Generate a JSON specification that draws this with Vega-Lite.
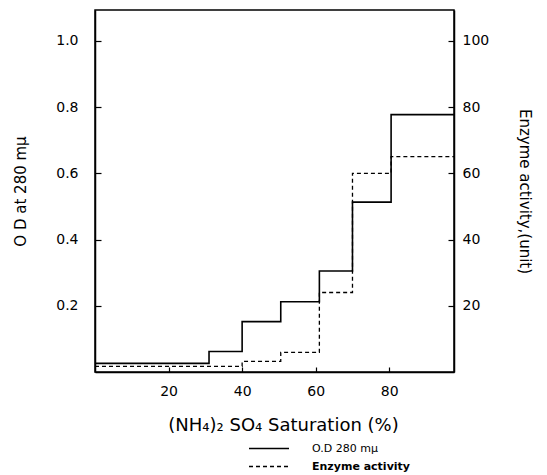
{
  "$schema": "https://vega.github.io/schema/vega-lite/v6.json",
  "width": 359,
  "height": 362,
  "autosize": {"type": "none"},
  "padding": {"left": 95, "top": 10, "right": 93, "bottom": 103},
  "background": "white",
  "config": {
    "view": {"stroke": "black", "strokeWidth": 1.5},
    "font": "DejaVu Sans",
    "axis": {"grid": false, "domainColor": "black", "domainWidth": 1.5, "tickColor": "black", "tickWidth": 1.2, "labelColor": "black", "titleColor": "black", "titleFontWeight": "normal", "labelFont": "DejaVu Sans", "titleFont": "DejaVu Sans"}
  },
  "data": {"values": [
    {"pct": 0, "value": 0.026, "series": "O.D 280 mμ"},
    {"pct": 31, "value": 0.062, "series": "O.D 280 mμ"},
    {"pct": 40, "value": 0.152, "series": "O.D 280 mμ"},
    {"pct": 50.5, "value": 0.212, "series": "O.D 280 mμ"},
    {"pct": 61, "value": 0.305, "series": "O.D 280 mμ"},
    {"pct": 70, "value": 0.513, "series": "O.D 280 mμ"},
    {"pct": 80.5, "value": 0.777, "series": "O.D 280 mμ"},
    {"pct": 97.6, "value": 0.777, "series": "O.D 280 mμ"},
    {"pct": 0, "value": 1.7, "series": "Enzyme activity"},
    {"pct": 40, "value": 3.2, "series": "Enzyme activity"},
    {"pct": 50.5, "value": 5.9, "series": "Enzyme activity"},
    {"pct": 61, "value": 24, "series": "Enzyme activity"},
    {"pct": 70, "value": 60, "series": "Enzyme activity"},
    {"pct": 80.5, "value": 65, "series": "Enzyme activity"},
    {"pct": 97.6, "value": 65, "series": "Enzyme activity"}
  ]},
  "encoding": {
    "x": {"field": "pct", "type": "quantitative",
      "scale": {"domain": [0, 97.6], "nice": false, "zero": false},
      "axis": {"values": [20, 40, 60, 80], "tickSize": -5, "labelPadding": 17, "labelFontSize": 14, "title": "(NH₄)₂ SO₄   Saturation (%)", "titleFontSize": 18, "titlePadding": 18, "titleX": 188, "titleAlign": "center"}
    },
    "strokeDash": {"field": "series", "type": "nominal",
      "scale": {"domain": ["O.D 280 mμ", "Enzyme activity"], "range": [[1, 0], [4, 3]]},
      "legend": {"orient": "none", "legendX": 153, "legendY": 432, "title": null, "symbolType": "stroke", "symbolSize": 1600, "clipHeight": 13, "symbolStrokeWidth": 1.3, "symbolStrokeColor": "black", "labelFontSize": 11, "labelOffset": 22, "rowPadding": 5,
        "labelFontWeight": {"expr": "datum.label == 'Enzyme activity' ? 'bold' : 'normal'"}}
    }
  },
  "layer": [
    {
      "transform": [{"filter": "datum.series == 'O.D 280 mμ'"}],
      "mark": {"type": "line", "interpolate": "step-after", "color": "black", "strokeWidth": 1.6},
      "encoding": {
        "y": {"field": "value", "type": "quantitative",
          "scale": {"domain": [0, 1.093], "nice": false},
          "axis": {"orient": "left", "values": [0.2, 0.4, 0.6, 0.8, 1.0], "format": ".1f", "tickSize": -6, "labelPadding": 23, "labelFontSize": 14, "title": "O D at 280 mμ", "titleFontSize": 15, "titlePadding": 27}
        }
      }
    },
    {
      "transform": [{"filter": "datum.series == 'Enzyme activity'"}],
      "mark": {"type": "line", "interpolate": "step-after", "color": "black", "strokeWidth": 1.3},
      "encoding": {
        "y": {"field": "value", "type": "quantitative",
          "scale": {"domain": [0, 109.3], "nice": false},
          "axis": {"orient": "right", "values": [20, 40, 60, 80, 100], "tickSize": -6, "labelPadding": 14, "labelFontSize": 14, "title": "Enzyme activity,(unit)", "titleFontSize": 15, "titlePadding": 28}
        }
      }
    }
  ],
  "resolve": {"scale": {"y": "independent"}}
}
